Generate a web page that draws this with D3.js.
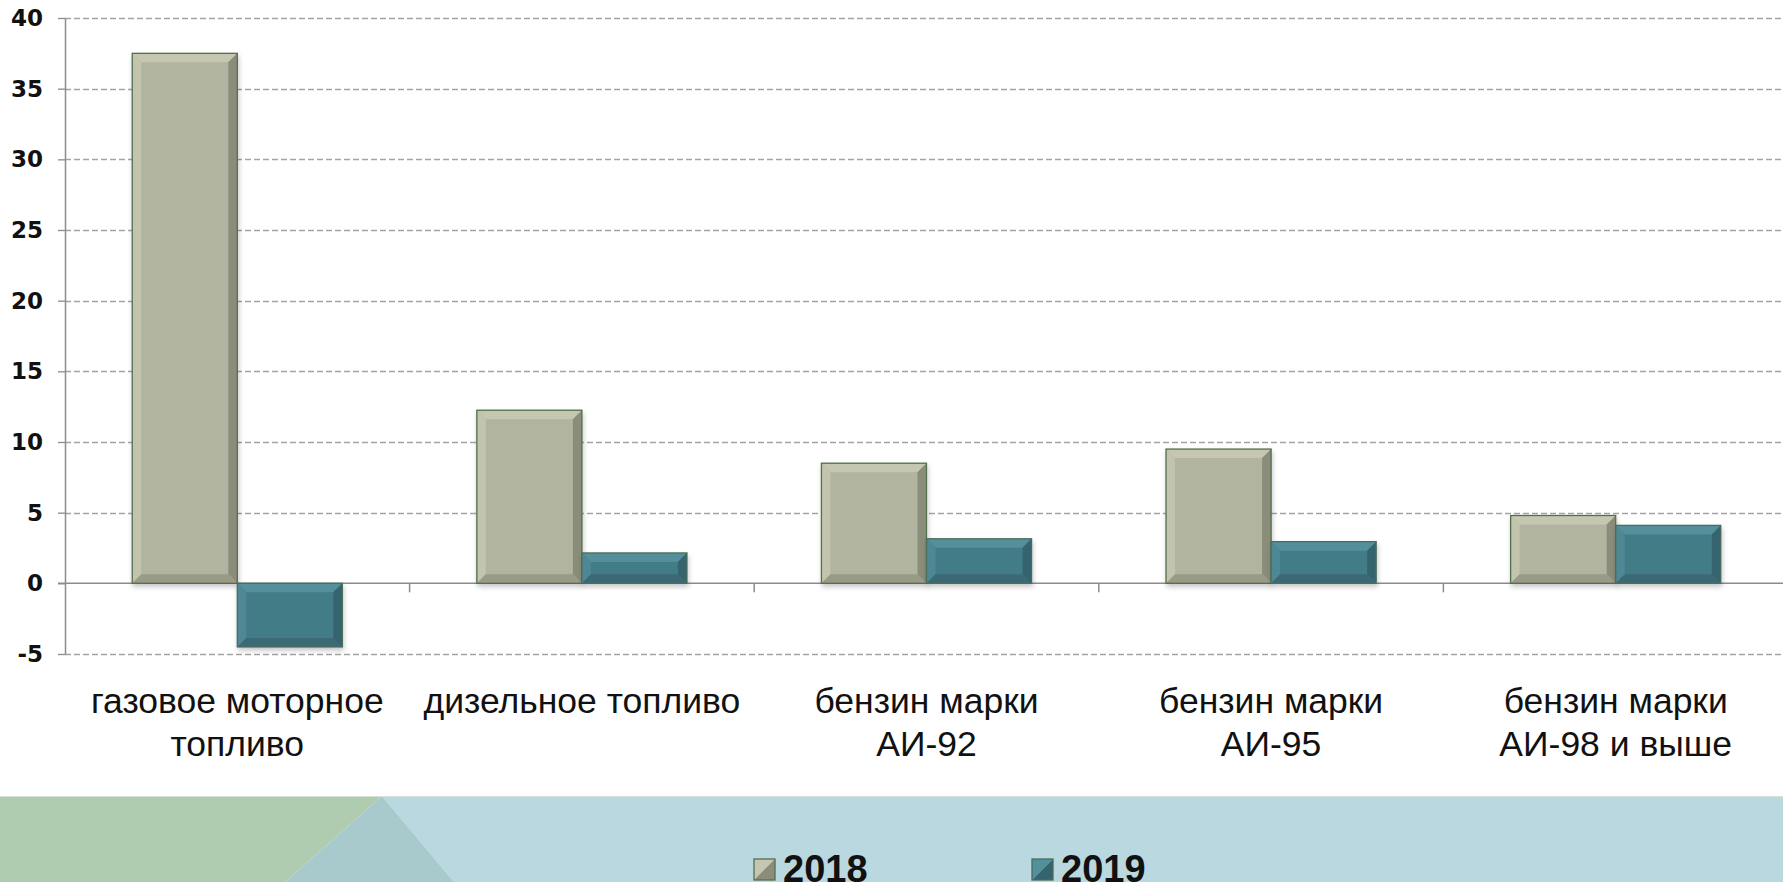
<!DOCTYPE html>
<html>
<head>
<meta charset="utf-8">
<script src="https://cdn.jsdelivr.net/npm/d3@7"></script>
<style>
  html, body { margin: 0; padding: 0; background: #fff; }
  svg { display: block; }
</style>
</head>
<body>
<svg id="chart" width="1783" height="882"></svg>
<script>
// data
const categories = ["газовое моторное топливо", "дизельное топливо", "бензин марки АИ-92", "бензин марки АИ-95", "бензин марки АИ-98 и выше"];
const categoryLines = [["газовое моторное", "топливо"], ["дизельное топливо"], ["бензин марки", "АИ-92"], ["бензин марки", "АИ-95"], ["бензин марки", "АИ-98 и выше"]];
const years = ["2018", "2019"];
const values2018 = [37.5, 12.25, 8.5, 9.5, 4.8];
const values2019 = [-4.5, 2.15, 3.15, 2.95, 4.1];
const yTicks = [-5, 0, 5, 10, 15, 20, 25, 30, 35, 40];

const palette = {
    "2018": {face: "#b1b49e", top: "#c5c7b1", left: "#c2c4ad", right: "#8a8d7a", bottom: "#999b87", stroke: "#52704d"},
    "2019": {face: "#437b87", top: "#548f9c", left: "#4e8894", right: "#35636e", bottom: "#3b6a75", stroke: "#4a6d5c"}
};

const svg = d3.select("#chart");
const W = 1783, H = 882;
const plotLeft = 65, plotTop = 18, plotBottom = 654;

const rows = categories.map((c, i) => ({cat: c, lines: categoryLines[i], "2018": values2018[i], "2019": values2019[i]}));

const x0 = d3.scaleBand()
    .domain(categories)
    .range([plotLeft, 1788])
    .padding(0);

const x1 = d3.scaleBand()
    .domain(years)
    .range([0, x0.bandwidth()])
    .paddingInner(0)
    .paddingOuter(0.64);

const y = d3.scaleLinear()
    .domain([-5, 40])
    .range([plotBottom, plotTop]);

const defs = svg.append("defs");
const shadow = defs.append("filter").attr("id", "shadow")
    .attr("x", "-10%").attr("y", "-10%").attr("width", "130%").attr("height", "130%");
shadow.append("feDropShadow")
    .attr("dx", 1).attr("dy", 3).attr("stdDeviation", 2.5)
    .attr("flood-color", "#000").attr("flood-opacity", 0.22);

// bottom decorative band
const band = svg.append("g").attr("class", "band");
band.append("polygon").attr("points", [[382, 796], [W, 796], [W, H], [454, H]].join(" ")).attr("fill", "#b9d8df");
band.append("polygon").attr("points", [[0, 796], [382, 796], [285, H], [0, H]].join(" ")).attr("fill", "#afcbb0");
band.append("polygon").attr("points", [[382, 796], [285, H], [454, H]].join(" ")).attr("fill", "#a8cacc");
band.append("line").attr("x1", 0).attr("x2", W).attr("y1", 796.5).attr("y2", 796.5)
    .attr("stroke", "#d6e2d8").attr("stroke-width", 1);

// gridlines
svg.append("g").attr("class", "grid")
    .selectAll("line")
    .data(yTicks.filter(t => t !== 0))
    .join("line")
    .attr("x1", plotLeft).attr("x2", W)
    .attr("y1", d => Math.round(y(d)) + 0.5).attr("y2", d => Math.round(y(d)) + 0.5)
    .attr("stroke", "#a3a3a3").attr("stroke-width", 1.3)
    .attr("stroke-dasharray", "6,3");

// y axis
const yAxis = svg.append("g")
    .attr("transform", `translate(${plotLeft},0)`)
    .call(d3.axisLeft(y).tickValues(yTicks).tickFormat(d => String(d))
        .tickSize(7).tickSizeOuter(0).tickPadding(15));
yAxis.select(".domain").attr("stroke", "#8c8c8c").attr("stroke-width", 1.5);
yAxis.selectAll(".tick line").attr("stroke", "#8c8c8c").attr("stroke-width", 1.3);
yAxis.selectAll(".tick text")
    .attr("fill", "#111")
    .style("font-family", "'DejaVu Sans', sans-serif")
    .style("font-weight", "bold")
    .style("font-size", "23px");

// zero line and category ticks
svg.append("line")
    .attr("x1", plotLeft - 7).attr("x2", W)
    .attr("y1", y(0)).attr("y2", y(0))
    .attr("stroke", "#8c8c8c").attr("stroke-width", 1.5);
svg.append("g").selectAll("line")
    .data(categories.slice(1))
    .join("line")
    .attr("x1", d => x0(d)).attr("x2", d => x0(d))
    .attr("y1", y(0)).attr("y2", y(0) + 9)
    .attr("stroke", "#8c8c8c").attr("stroke-width", 1.5);

// bevelled bars
function drawBevelBar(g, x, yTop, w, h, c) {
    const b = Math.min(9, h / 3);
    const poly = pts => pts.map(p => p.join(",")).join(" ");
    const bar = g.append("g").attr("filter", "url(#shadow)");
    bar.append("rect").attr("x", x).attr("y", yTop).attr("width", w).attr("height", h).attr("fill", c.face);
    bar.append("polygon").attr("fill", c.top)
        .attr("points", poly([[x, yTop], [x + w, yTop], [x + w - b, yTop + b], [x + b, yTop + b]]));
    bar.append("polygon").attr("fill", c.left)
        .attr("points", poly([[x, yTop], [x + b, yTop + b], [x + b, yTop + h - b], [x, yTop + h]]));
    bar.append("polygon").attr("fill", c.right)
        .attr("points", poly([[x + w, yTop], [x + w - b, yTop + b], [x + w - b, yTop + h - b], [x + w, yTop + h]]));
    bar.append("polygon").attr("fill", c.bottom)
        .attr("points", poly([[x, yTop + h], [x + w, yTop + h], [x + w - b, yTop + h - b], [x + b, yTop + h - b]]));
    bar.append("rect").attr("x", x).attr("y", yTop).attr("width", w).attr("height", h)
        .attr("fill", "none").attr("stroke", c.stroke).attr("stroke-width", 1.3);
}

const bars = svg.append("g").attr("class", "bars");
rows.forEach(r => {
    years.forEach(yr => {
        const v = r[yr];
        const top = y(Math.max(0, v)), bot = y(Math.min(0, v));
        drawBevelBar(bars, x0(r.cat) + x1(yr), top, x1.bandwidth(), bot - top, palette[yr]);
    });
});

// category labels
svg.append("g").attr("class", "x-labels")
    .selectAll("text")
    .data(rows)
    .join("text")
    .attr("x", d => x0(d.cat) + x0.bandwidth() / 2)
    .attr("y", 713)
    .attr("text-anchor", "middle")
    .attr("fill", "#111")
    .style("font-family", "'Liberation Sans', Arial, sans-serif")
    .style("font-size", "35.5px")
    .selectAll("tspan")
    .data(d => d.lines)
    .join("tspan")
    .attr("x", function() { return d3.select(this.parentNode).attr("x"); })
    .attr("dy", (d, i) => i === 0 ? 0 : 43)
    .text(d => d);

// legend
const legendX = [754, 1032];
const legend = svg.append("g").attr("class", "legend")
    .selectAll("g")
    .data(years)
    .join("g")
    .attr("transform", (d, i) => `translate(${legendX[i]},859)`);
legend.append("polygon").attr("points", "0,0 21,0 0,21").attr("fill", d => palette[d].top);
legend.append("polygon").attr("points", "21,0 21,21 0,21").attr("fill", d => palette[d].right);
legend.append("rect").attr("width", 21).attr("height", 21)
    .attr("fill", "none").attr("stroke", d => palette[d].stroke).attr("stroke-width", 1.3);
legend.append("text")
    .attr("x", 29).attr("y", 23)
    .attr("fill", "#111")
    .style("font-family", "'Liberation Sans', Arial, sans-serif")
    .style("font-weight", "bold")
    .style("font-size", "38px")
    .text(d => d);
</script>
</body>
</html>
